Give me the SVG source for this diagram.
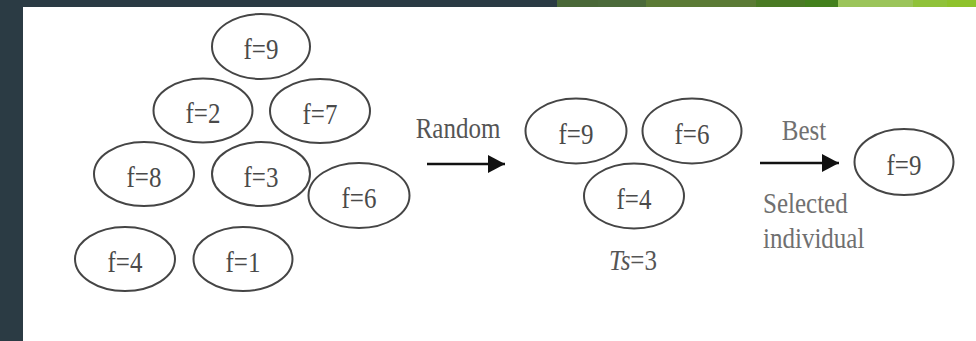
<svg xmlns="http://www.w3.org/2000/svg" width="976" height="341" viewBox="0 0 976 341">
<style>
.n{fill:#fff;stroke:#454545;stroke-width:2}
.t{font-family:"Liberation Serif","Times New Roman",serif;font-size:25px;fill:#4a4a4a;text-anchor:middle}
.l{font-family:"Liberation Serif","Times New Roman",serif;font-size:25px;fill:#707070}
.c{stroke:#111;stroke-width:2.6;fill:none}
</style>
<defs>
<marker id="ah" markerUnits="userSpaceOnUse" markerWidth="18" markerHeight="20" refX="17" refY="10" orient="auto" viewBox="0 0 18 20">
<polygon points="0,1 17,10 0,19" fill="#111"/>
</marker>
</defs>
<rect width="976" height="341" fill="#fff"/>
<g id="frame">
<rect x="0" y="0" width="557" height="7" fill="#2b3b44"/>
<rect x="0" y="0" width="23" height="341" fill="#2b3b44"/>
<rect x="557" y="0" width="42" height="7" fill="#4a6838"/>
<rect x="598" y="0" width="49" height="7" fill="#4b6a3a"/>
<rect x="646" y="0" width="111" height="7" fill="#5b7a35"/>
<rect x="756" y="0" width="50" height="7" fill="#4a7a24"/>
<rect x="805" y="0" width="34" height="7" fill="#43801c"/>
<rect x="838" y="0" width="76" height="7" fill="#9bc45a"/>
<rect x="913" y="0" width="35" height="7" fill="#90c23a"/>
<rect x="947" y="0" width="29" height="7" fill="#8ec22c"/>
</g>
<g id="connectors">
<line class="c" x1="427" y1="164" x2="505" y2="164" marker-end="url(#ah)"/>
<line class="c" x1="760" y1="163" x2="839" y2="163" marker-end="url(#ah)"/>
</g>
<g id="p9"><ellipse class="n" cx="261" cy="46.5" rx="49" ry="32.5"/><text class="t" transform="translate(261,59) scale(1,1.2)">f=9</text></g>
<g id="p2"><ellipse class="n" cx="203" cy="110.5" rx="49.5" ry="32"/><text class="t" transform="translate(203,123) scale(1,1.2)">f=2</text></g>
<g id="p7"><ellipse class="n" cx="320" cy="111" rx="50" ry="32"/><text class="t" transform="translate(320,123.5) scale(1,1.2)">f=7</text></g>
<g id="p8"><ellipse class="n" cx="144" cy="174" rx="50" ry="32"/><text class="t" transform="translate(144,186.5) scale(1,1.2)">f=8</text></g>
<g id="p3"><ellipse class="n" cx="261" cy="174" rx="49" ry="32"/><text class="t" transform="translate(261,186.5) scale(1,1.2)">f=3</text></g>
<g id="p6"><ellipse class="n" cx="359" cy="195.5" rx="50.5" ry="32.5"/><text class="t" transform="translate(359,208) scale(1,1.2)">f=6</text></g>
<g id="p4"><ellipse class="n" cx="125" cy="259" rx="50" ry="32"/><text class="t" transform="translate(125,271.5) scale(1,1.2)">f=4</text></g>
<g id="p1"><ellipse class="n" cx="243" cy="259" rx="49.5" ry="32"/><text class="t" transform="translate(243,271.5) scale(1,1.2)">f=1</text></g>
<g id="s9"><ellipse class="n" cx="576" cy="131" rx="50.5" ry="32.5"/><text class="t" transform="translate(576,143.5) scale(1,1.2)">f=9</text></g>
<g id="s6"><ellipse class="n" cx="692" cy="131" rx="49.5" ry="32.5"/><text class="t" transform="translate(692,143.5) scale(1,1.2)">f=6</text></g>
<g id="s4"><ellipse class="n" cx="634" cy="196" rx="50" ry="32.5"/><text class="t" transform="translate(634,208.5) scale(1,1.2)">f=4</text></g>
<g id="best9"><ellipse class="n" cx="904" cy="162" rx="49.5" ry="33"/><text class="t" transform="translate(904,174.5) scale(1,1.2)">f=9</text></g>
<g id="labels">
<text class="l" style="fill:#555;text-anchor:middle" transform="translate(458,137.5) scale(1,1.2)">Random</text>
<text class="l" style="text-anchor:middle" transform="translate(804,140) scale(1,1.2)">Best</text>
<text class="l" transform="translate(763,213) scale(1,1.2)">Selected</text>
<text class="l" transform="translate(763,248) scale(1,1.2)">individual</text>
<text class="l" style="fill:#555;text-anchor:middle" transform="translate(633,270) scale(1,1.2)"><tspan font-style="italic">Ts</tspan>=3</text>
</g>
</svg>
